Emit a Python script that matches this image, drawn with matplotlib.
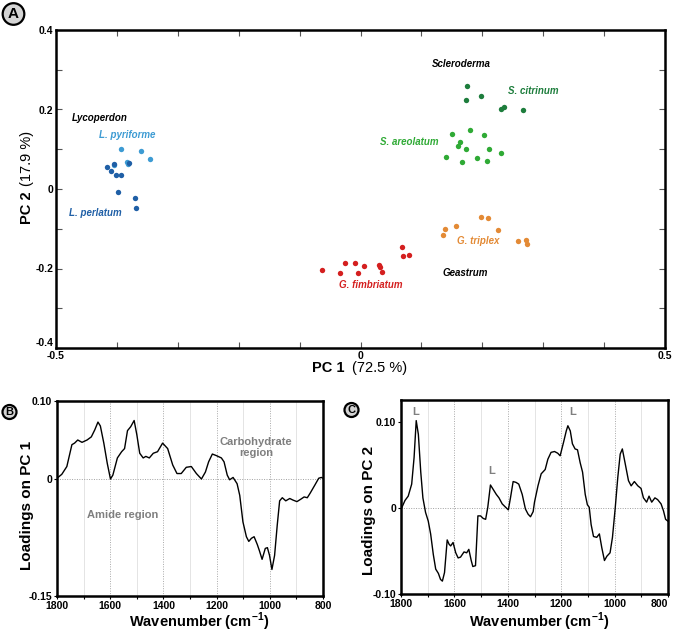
import matplotlib
matplotlib.use('Agg')
import matplotlib.pyplot as plt
import numpy as np

plt.rcParams['font.family'] = ['Liberation Sans', 'DejaVu Sans']
plt.rcParams['mathtext.fontset'] = 'custom'
plt.rcParams['mathtext.rm'] = 'Liberation Sans'
plt.rcParams['mathtext.bf'] = 'Liberation Sans:bold'

###################################################  data

# PCA scores (PC1, PC2)
pyriforme_x = [-0.393, -0.360, -0.346, -0.384, -0.381, -0.404]
pyriforme_y = [0.100, 0.096, 0.075, 0.069, 0.063, 0.060]
perlatum_x = [-0.417, -0.409, -0.404, -0.401, -0.393, -0.398, -0.370, -0.368, -0.380]
perlatum_y = [0.055, 0.045, 0.064, 0.035, 0.034, -0.008, -0.022, -0.047, 0.065]
citrinum_x = [0.175, 0.198, 0.174, 0.230, 0.236, 0.267]
citrinum_y = [0.258, 0.234, 0.225, 0.201, 0.207, 0.198]
areolatum_x = [0.151, 0.179, 0.203, 0.163, 0.160, 0.174, 0.211, 0.231, 0.140, 0.166, 0.192, 0.207]
areolatum_y = [0.139, 0.148, 0.137, 0.118, 0.108, 0.100, 0.101, 0.091, 0.081, 0.068, 0.078, 0.070]
triplex_x = [0.198, 0.209, 0.157, 0.138, 0.136, 0.226, 0.258, 0.272, 0.274]
triplex_y = [-0.070, -0.072, -0.094, -0.100, -0.116, -0.104, -0.131, -0.129, -0.139]
fimbriatum_x = [0.068, 0.070, 0.080, -0.026, -0.009, 0.005, 0.030, 0.032, 0.035, -0.004, -0.034, -0.063]
fimbriatum_y = [-0.147, -0.168, -0.167, -0.185, -0.187, -0.194, -0.192, -0.196, -0.208, -0.211, -0.212, -0.204]

species = ['L. pyriforme', 'L. perlatum', 'S. citrinum', 'S. areolatum', 'G. triplex', 'G. fimbriatum']
genera = ['Lycoperdon', 'Scleroderma', 'Geastrum']
colors = ['#3d9bd3', '#1f5fa6', '#1d7d3c', '#2faa35', '#e38a35', '#d41f1f']

# loadings on PC1
pc1_wn = [1800, 1782, 1763, 1744, 1734, 1722, 1706, 1687, 1671, 1658, 1646, 1637, 1624, 1611,
          1599, 1590, 1573, 1557, 1546, 1535, 1523, 1510, 1500, 1489, 1476, 1466, 1453, 1438,
          1422, 1403, 1384, 1365, 1349, 1333, 1314, 1295, 1276, 1257, 1242, 1230, 1216, 1201,
          1182, 1172, 1160, 1151, 1138, 1123, 1113, 1101, 1088, 1079, 1069, 1059, 1047, 1039,
          1029, 1017, 1009, 1001, 992, 982, 972, 963, 953, 940, 925, 913, 898, 884, 871, 859,
          848, 831, 816, 806, 800]
pc1_load = [0.001, 0.006, 0.016, 0.044, 0.046, 0.050, 0.047, 0.050, 0.054, 0.063, 0.073, 0.068,
            0.046, 0.020, 0.000, 0.005, 0.027, 0.035, 0.039, 0.062, 0.067, 0.075, 0.057, 0.033,
            0.027, 0.029, 0.027, 0.033, 0.035, 0.046, 0.039, 0.018, 0.007, 0.007, 0.015, 0.016,
            0.007, 0.000, 0.009, 0.022, 0.032, 0.030, 0.027, 0.022, 0.005, -0.001, 0.002, -0.006,
            -0.021, -0.055, -0.074, -0.080, -0.076, -0.074, -0.084, -0.092, -0.103, -0.089,
            -0.088, -0.098, -0.116, -0.098, -0.059, -0.028, -0.024, -0.028, -0.025, -0.027,
            -0.029, -0.026, -0.023, -0.024, -0.018, -0.008, 0.001, 0.002, 0.001]

# loadings on PC2
pc2_wn = [1798, 1785, 1773, 1760, 1751, 1743, 1735, 1726, 1718, 1708, 1698, 1689, 1679, 1670,
          1660, 1652, 1645, 1637, 1627, 1620, 1614, 1605, 1595, 1586, 1577, 1564, 1554, 1546,
          1537, 1531, 1521, 1512, 1502, 1492, 1483, 1475, 1465, 1455, 1443, 1433, 1421, 1408,
          1398, 1390, 1380, 1369, 1359, 1346, 1334, 1324, 1315, 1305, 1300, 1287, 1275, 1260,
          1250, 1238, 1225, 1213, 1204, 1191, 1181, 1175, 1166, 1158, 1148, 1139, 1129, 1120,
          1110, 1102, 1095, 1088, 1079, 1067, 1057, 1048, 1038, 1029, 1017, 1008, 998, 988,
          979, 971, 961, 948, 938, 926, 913, 901, 892, 880, 871, 861, 849, 839, 826, 817, 809, 801]
pc2_load = [0.000, 0.009, 0.014, 0.028, 0.059, 0.102, 0.086, 0.042, 0.012, -0.005, -0.015,
            -0.030, -0.054, -0.071, -0.076, -0.083, -0.085, -0.075, -0.037, -0.042, -0.044,
            -0.040, -0.052, -0.058, -0.057, -0.051, -0.052, -0.048, -0.061, -0.068, -0.067,
            -0.009, -0.009, -0.012, -0.013, 0.001, 0.027, 0.022, 0.016, 0.012, 0.005, 0.001,
            -0.002, 0.012, 0.031, 0.030, 0.028, 0.016, -0.001, -0.007, -0.010, -0.004, 0.007,
            0.026, 0.040, 0.045, 0.057, 0.065, 0.066, 0.064, 0.061, 0.077, 0.090, 0.096, 0.090,
            0.075, 0.069, 0.068, 0.053, 0.042, 0.016, 0.004, 0.001, -0.019, -0.033, -0.034,
            -0.030, -0.046, -0.061, -0.056, -0.052, -0.034, -0.001, 0.036, 0.063, 0.069, 0.053,
            0.032, 0.026, 0.031, 0.026, 0.023, 0.012, 0.007, 0.014, 0.007, 0.012, 0.010, 0.005,
            -0.003, -0.013, -0.015]

###################################################  figure

W, H = 675, 632
fig = plt.figure(figsize=(W / 100, H / 100), dpi=100)

def fx(px):
    return px / W

def fy(py):
    return 1 - py / H

def circle_label(px, py, letter, size, pad):
    fig.text(fx(px), fy(py), letter, ha='center', va='center', fontsize=size,
             fontweight='bold', bbox=dict(boxstyle='circle,pad=%g' % pad, fc='#d4d4d4',
                                          ec='black', lw=1.6))

###################################################  panel A : scores

axA = fig.add_axes([fx(56), fy(348), fx(665) - fx(56), fy(30) - fy(348)])
xs = [pyriforme_x, perlatum_x, citrinum_x, areolatum_x, triplex_x, fimbriatum_x]
ys = [pyriforme_y, perlatum_y, citrinum_y, areolatum_y, triplex_y, fimbriatum_y]
for x, y, c in zip(xs, ys, colors):
    axA.scatter(x, y, s=15, color=c, linewidths=0, zorder=3)

axA.set_xlim(-0.5, 0.5)
axA.set_ylim(-0.4, 0.4)
axA.set_xticks(np.round(np.arange(-0.5, 0.51, 0.1), 1))
axA.set_xticklabels(['-0.5', '', '', '', '', '0', '', '', '', '', '0.5'])
axA.set_yticks(np.round(np.arange(-0.4, 0.41, 0.1), 1))
axA.set_yticklabels(['-0.4', '', '-0.2', '', '0', '', '0.2', '', '0.4'])
axA.tick_params(direction='in', length=4, width=0.8, color='#555555', top=True, right=True,
                labelsize=7.5, pad=2)
axA.tick_params(axis='x', pad=2.5)
for lab in axA.get_xticklabels() + axA.get_yticklabels():
    lab.set_fontweight('bold')
axA.get_yticklabels()[0].set_va('bottom')
for sp in axA.spines.values():
    sp.set_linewidth(1.8)

# species / genus annotations
lab_pos = [(-0.430, 0.136), (-0.479, -0.061), (0.243, 0.247), (0.032, 0.119),
           (0.159, -0.131), (-0.035, -0.242)]
for (x, y), name, c in zip(lab_pos, species, colors):
    axA.text(x, y, name, color=c, fontsize=7, fontweight='bold', style='italic',
             ha='left', va='center')
gen_pos = [(-0.474, 0.179), (0.117, 0.314), (0.135, -0.211)]
for (x, y), name in zip(gen_pos, genera):
    axA.text(x, y, name, color='black', fontsize=7, fontweight='bold', style='italic',
             ha='left', va='center')

narrow = ['Liberation Sans Narrow', 'Liberation Sans']
fig.text(fx(345), fy(368), 'PC 1', ha='right', va='center', fontsize=10.5, fontweight='bold',
         family=narrow)
fig.text(fx(352), fy(368), '(72.5 %)', ha='left', va='center', fontsize=10.5, family=narrow)
fig.text(fx(27), fy(191), 'PC 2', ha='center', va='top', rotation=90, fontsize=10.5,
         fontweight='bold', family=narrow)
fig.text(fx(27), fy(186), '(17.9 %)', ha='center', va='bottom', rotation=90, fontsize=10.5,
         family=narrow)

circle_label(13.5, 14, 'A', 11, 0.25)

###################################################  panels B and C : loadings

def loading_axes(rect, wn, load, ylim, yticks, yticklabels, ylabel, xlab_xy, ylab_xy):
    ax = fig.add_axes(rect)
    for w in [1700, 1500, 1300, 1100, 900]:
        ax.axvline(w, color='#e4e4e4', lw=0.7, zorder=0)
    for w in [1600, 1400, 1200, 1000]:
        ax.axvline(w, color='#a8a8a8', lw=0.7, ls=(0, (1, 1.5)), zorder=0)
    ax.axhline(0, color='#a0a0a0', lw=0.7, ls=(0, (1, 1.5)), zorder=0)
    ax.plot(wn, load, color='black', lw=1.0, zorder=2)
    ax.set_xlim(1800, 800)
    ax.set_ylim(*ylim)
    ax.set_xticks(np.arange(800, 1801, 100))
    ax.set_xticklabels(['800', '', '1000', '', '1200', '', '1400', '', '1600', '', '1800'])
    ax.set_yticks(yticks)
    ax.set_yticklabels(yticklabels)
    ax.tick_params(direction='out', length=2, width=0.8, labelsize=7.5, pad=1.5)
    for lab in ax.get_xticklabels() + ax.get_yticklabels():
        lab.set_fontweight('bold')
    for sp in ax.spines.values():
        sp.set_linewidth(1.8)
    ax.set_xlabel(r'Wavenumber (cm$^{\mathbf{-1}}$)', fontsize=10.5, fontweight='bold')
    ax.set_ylabel(ylabel, fontsize=11, fontweight='bold')
    ax.xaxis.set_label_coords(*xlab_xy)
    ax.yaxis.set_label_coords(*ylab_xy)
    return ax

axB = loading_axes([fx(57), fy(596), fx(323) - fx(57), fy(401) - fy(596)],
                   pc1_wn, pc1_load, (-0.15, 0.10), [-0.15, 0, 0.10],
                   ['-0.15', '0', '0.10'], 'Loadings on PC 1',
                   (0.534, -0.076), (-0.088, 0.465))
axB.text(1052, 0.040, 'Carbohydrate\nregion', color='#7f7f7f', fontsize=8,
         fontweight='bold', ha='center', va='center', linespacing=1.1)
axB.text(1554, -0.046, 'Amide region', color='#7f7f7f', fontsize=8,
         fontweight='bold', ha='center', va='center')
circle_label(9.5, 412, 'B', 8, 0.18)

axC = loading_axes([fx(401), fy(594), fx(668) - fx(401), fy(400) - fy(594)],
                   pc2_wn, pc2_load, (-0.10, 0.126), [-0.10, 0, 0.10],
                   ['-0.10', '0', '0.10'], 'Loadings on PC 2',
                   (0.517, -0.086), (-0.092, 0.43))
axC.get_xticklabels()[0].set_ha('right')
for x, y in [(1745, 0.112), (1460, 0.043), (1157, 0.112)]:
    axC.text(x, y, 'L', color='#7f7f7f', fontsize=8, fontweight='bold',
             ha='center', va='center')
circle_label(351.5, 410, 'C', 8, 0.18)

plt.savefig('out.png', dpi=100)
plt.close()
